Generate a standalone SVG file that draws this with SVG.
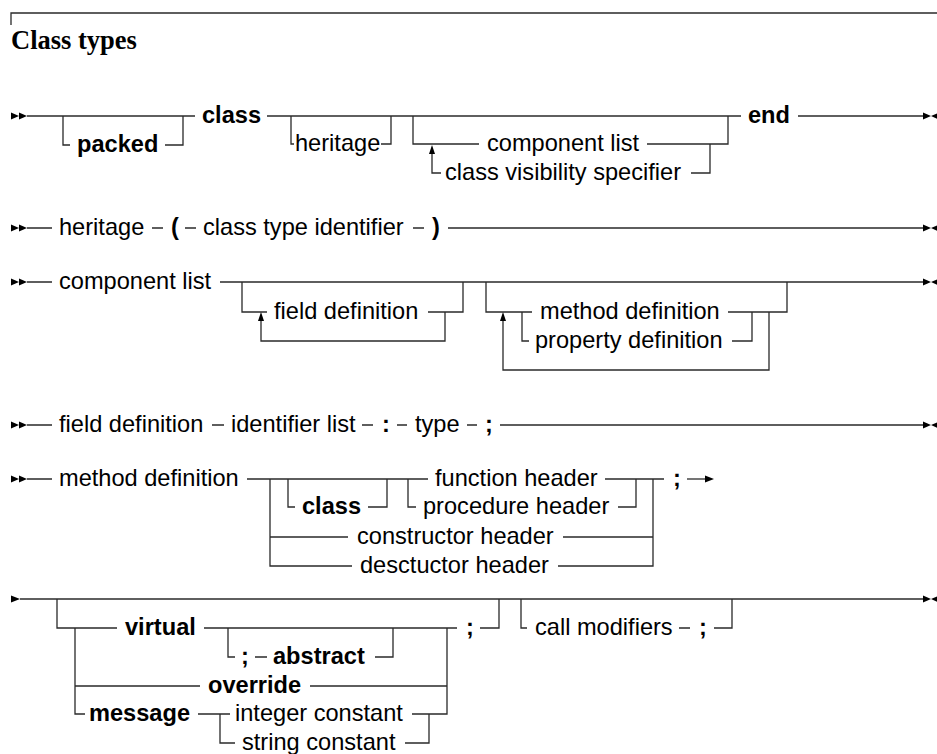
<svg xmlns="http://www.w3.org/2000/svg" width="937" height="754" viewBox="0 0 937 754">
<style>
text{font-family:"Liberation Sans",Arial,Helvetica,sans-serif;font-size:23.6px;fill:#000}
.b{font-weight:bold}
.title{font-family:"Liberation Serif","Times New Roman",serif;font-size:26.5px;font-weight:bold}
.r{fill:none;stroke:#2a2a2a;stroke-width:1.3}
.h{fill:#000;stroke:none}
</style>
<defs>
<g id="start2"><polygon class="h" points="0,-3.5 8,0 0,3.5"/><polygon class="h" points="8,-3.5 16,0 8,3.5"/></g>
<g id="start1"><polygon class="h" points="0,-3.5 9,0 0,3.5"/></g>
<g id="end"><polygon class="h" points="0,-3.5 8,0 0,3.5"/><polygon class="h" points="16,-3.5 8,0 16,3.5"/></g>
<polygon id="up" class="h" points="0,0 -3,9 3,9"/>
</defs>
<rect width="937" height="754" fill="#fff"/>
<g id="frame"><path class="r" d="M11,25 V13 H937"/><text class="title" x="11" y="49">Class types</text></g>

<g id="connectors">
<!-- row 1 -->
<use href="#start2" x="11" y="116"/>
<path class="r" d="M27,116 H195"/>
<path class="r" d="M63,116 V145 H70 M165,145 H183 V116"/>
<path class="r" d="M267,116 H741"/>
<path class="r" d="M291,116 V144 H294 M381,144 H391 V116"/>
<path class="r" d="M413,116 V144 H479 M647,144 H728 V116"/>
<path class="r" d="M710,144 V173 H691 M441,173 H432 V153"/>
<use href="#up" x="432" y="145"/>
<path class="r" d="M798,116 H923"/>
<use href="#end" x="923" y="116"/>
<!-- row 2 -->
<use href="#start2" x="11" y="228"/>
<path class="r" d="M27,228 H52 M152,228 H163 M185,228 H196 M413,228 H424 M448,228 H923"/>
<use href="#end" x="923" y="228"/>
<!-- row 3 -->
<use href="#start2" x="11" y="282"/>
<path class="r" d="M27,282 H52 M220,282 H923"/>
<path class="r" d="M242,282 V312 H267 M428,312 H463 V282 M445,312 V341 H261 V321"/>
<use href="#up" x="261" y="312"/>
<path class="r" d="M486,282 V312 H532 M728,312 H787 V282 M522,312 V341 H529 M732,341 H752 V312 M769,312 V370 H503 V321"/>
<use href="#up" x="503" y="312"/>
<use href="#end" x="923" y="282"/>
<!-- row 4 -->
<use href="#start2" x="11" y="425"/>
<path class="r" d="M27,425 H52 M212,425 H224 M362,425 H373 M397,425 H407 M467,425 H477 M500,425 H923"/>
<use href="#end" x="923" y="425"/>
<!-- row 5 -->
<use href="#start2" x="11" y="479"/>
<path class="r" d="M27,479 H52 M247,479 H428 M605,479 H664"/>
<path class="r" d="M288,479 V507 H295 M368,507 H387 V479"/>
<path class="r" d="M408,479 V507 H416 M618,507 H636 V479"/>
<path class="r" d="M270,479 V566 H352 M270,537 H348 M563,537 H653 M558,566 H653 V479"/>
<path class="r" d="M687,479 H705"/>
<polygon class="h" points="714,479 705,475.5 705,482.5"/>
<!-- row 6 -->
<use href="#start1" x="11" y="599"/>
<path class="r" d="M20,599 H923"/>
<use href="#end" x="923" y="599"/>
<path class="r" d="M57,599 V628 H117 M204,628 H457 M480,628 H499 V599"/>
<path class="r" d="M228,628 V657 H235 M255,657 H267 M375,657 H393 V628"/>
<path class="r" d="M75,628 V714 H85 M198,714 H230 M412,714 H447 V628 M220,714 V743 H235 M405,743 H429 V714"/>
<path class="r" d="M75,686 H200 M310,686 H447"/>
<path class="r" d="M521,599 V628 H527 M679,628 H690 M714,628 H732 V599"/>
</g>

<g id="n-packed"><text class="b" x="77" y="152">packed</text></g>
<g id="n-class1"><text class="b" x="202" y="123">class</text></g>
<g id="n-heritage1"><text x="295" y="151">heritage</text></g>
<g id="n-complist1"><text x="487" y="151">component list</text></g>
<g id="n-visibility"><text x="445" y="180">class visibility specifier</text></g>
<g id="n-end"><text class="b" x="748" y="123">end</text></g>

<g id="n-heritage2"><text x="59" y="235">heritage</text></g>
<g id="n-lparen"><text class="b" x="171" y="235">(</text></g>
<g id="n-cti"><text x="203" y="235">class type identifier</text></g>
<g id="n-rparen"><text class="b" x="432" y="235">)</text></g>

<g id="n-complist2"><text x="59" y="289">component list</text></g>
<g id="n-fielddef1"><text x="274" y="319">field definition</text></g>
<g id="n-methoddef1"><text x="540" y="319">method definition</text></g>
<g id="n-propdef"><text x="535" y="348">property definition</text></g>

<g id="n-fielddef2"><text x="59" y="432">field definition</text></g>
<g id="n-idlist"><text x="231" y="432">identifier list</text></g>
<g id="n-colon"><text class="b" x="382" y="432">:</text></g>
<g id="n-type"><text x="415" y="432">type</text></g>
<g id="n-semi1"><text class="b" x="485" y="432">;</text></g>

<g id="n-methoddef2"><text x="59" y="486">method definition</text></g>
<g id="n-class2"><text class="b" x="302" y="514">class</text></g>
<g id="n-funchdr"><text x="435" y="486">function header</text></g>
<g id="n-prochdr"><text x="423" y="514">procedure header</text></g>
<g id="n-ctorhdr"><text x="357" y="544">constructor header</text></g>
<g id="n-dtorhdr"><text x="360" y="573">desctuctor header</text></g>
<g id="n-semi2"><text class="b" x="673" y="486">;</text></g>

<g id="n-virtual"><text class="b" x="125" y="635">virtual</text></g>
<g id="n-semi3"><text class="b" x="241" y="664">;</text></g>
<g id="n-abstract"><text class="b" x="273" y="664">abstract</text></g>
<g id="n-semi4"><text class="b" x="466" y="635">;</text></g>
<g id="n-override"><text class="b" x="208" y="693">override</text></g>
<g id="n-message"><text class="b" x="89" y="721">message</text></g>
<g id="n-intconst"><text x="235" y="721">integer constant</text></g>
<g id="n-strconst"><text x="242" y="750">string constant</text></g>
<g id="n-callmod"><text x="535" y="635">call modifiers</text></g>
<g id="n-semi5"><text class="b" x="699" y="635">;</text></g>
</svg>
